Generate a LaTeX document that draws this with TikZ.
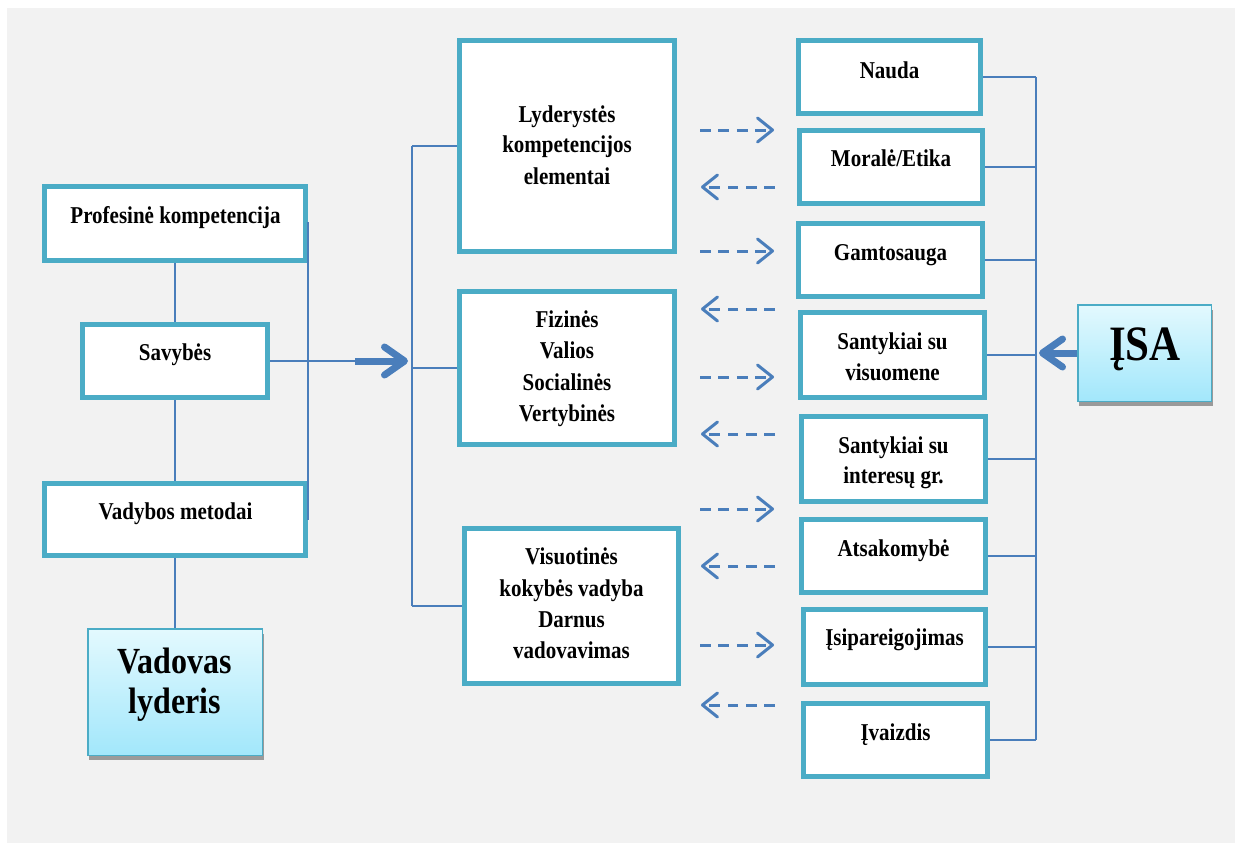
\documentclass[tikz,border=0pt]{standalone}
\usepackage{fontspec}
\setmainfont{Liberation Serif}
\usepackage{graphicx}
\usetikzlibrary{arrows.meta,shadows}
\definecolor{bgray}{HTML}{F2F2F2}
\definecolor{boxblue}{HTML}{4BACC6}
\definecolor{lineblue}{HTML}{4A7EBB}
\definecolor{gradtop}{HTML}{E3F9FE}
\definecolor{gradbot}{HTML}{A2E7FB}
\definecolor{shadowgray}{HTML}{9A9A9A}
\newcommand\bx[5]{\node[box,minimum width={#3-#1-5},minimum height={#4-#2-5}] (#5) at ({(#1+#3)/2},{(#2+#4)/2}) {};}
\newcommand\tline[4]{\node[tl] (#1) at (#2,#3) {\scalebox{1}[1.15]{#4}};}
\begin{document}
\begin{tikzpicture}[x=1pt,y=-1pt,
  box/.style={draw=boxblue,line width=5pt,fill=white,inner sep=0pt,rectangle},
  grad/.style={draw=boxblue,line width=1.5pt,top color=gradtop,bottom color=gradbot,inner sep=0pt,rectangle,
    drop shadow={shadow xshift=1.5pt,shadow yshift=-5pt,fill=shadowgray,opacity=1}},
  tl/.style={anchor=base,inner sep=0pt,font=\fontsize{21}{21}\selectfont\bfseries},
  bigtl/.style={anchor=base,inner sep=0pt,font=\fontsize{32}{32}\selectfont\bfseries},
  hugetl/.style={anchor=base,inner sep=0pt,font=\fontsize{43}{43}\selectfont\bfseries},
  conn/.style={draw=lineblue,line width=1.9pt},
  thickarr/.style={draw=lineblue,line width=7pt,-{Straight Barb[length=20pt,width=28pt,round]}},
  dasharr/.style={draw=lineblue,line width=3pt,dash pattern=on 10.7pt off 7.7pt,-{Straight Barb[length=15pt,width=24pt,round]}}
]
\useasboundingbox (0,0) rectangle (1238,843);
\fill[white] (0,0) rectangle (1238,843);
\fill[bgray] (7,8) rectangle (1235,843);

% left column
\bx{42}{184}{308}{263}{prof}
\bx{80}{322}{270}{400}{sav}
\bx{42}{481}{308}{558}{vad}
\node[grad,minimum width=174.5,minimum height=126.5] (vadovas) at (175,692) {};

% middle column
\bx{457}{38}{677}{254}{lyd}
\bx{457}{289}{677}{447}{fiz}
\bx{462}{526}{681}{686}{vis}

% right column
\bx{796}{38}{983}{116}{nauda}
\bx{797}{128}{985}{206}{moral}
\bx{796}{221}{985}{299}{gamt}
\bx{798}{310}{987}{400}{svis}
\bx{799}{414}{988}{504}{sint}
\bx{799}{517}{988}{595}{ats}
\bx{801}{607}{988}{687}{isip}
\bx{801}{701}{990}{779}{ivaiz}
\node[grad,minimum width=133.5,minimum height=96.5] (isa) at (1144.5,353) {};

% texts
\tline{tprof}{175.5}{223}{Profesinė kompetencija}
\tline{tsav}{175}{360}{Savybės}
\tline{tvad}{175.5}{519}{Vadybos metodai}
\node[bigtl] (tvadovas1) at (175,673) {\scalebox{1}[1.15]{Vadovas}};
\node[bigtl] (tvadovas2) at (175,713) {\scalebox{1}[1.15]{lyderis}};

\tline{tlyd1}{567}{122}{Lyderystės}
\tline{tlyd2}{567}{152}{kompetencijos}
\tline{tlyd3}{567}{184}{elementai}
\tline{tfiz1}{567}{327}{Fizinės}
\tline{tfiz2}{567}{358}{Valios}
\tline{tfiz3}{567}{390}{Socialinės}
\tline{tfiz4}{567}{421}{Vertybinės}
\tline{tvis1}{571.5}{564}{Visuotinės}
\tline{tvis2}{571.5}{596}{kokybės vadyba}
\tline{tvis3}{571.5}{627}{Darnus}
\tline{tvis4}{571.5}{658}{vadovavimas}

\tline{tnauda}{889.5}{78}{Nauda}
\tline{tmoral}{891}{166}{Moralė/Etika}
\tline{tgamt}{890.5}{260}{Gamtosauga}
\tline{tsvis1}{892.5}{349}{Santykiai su}
\tline{tsvis2}{892.5}{380}{visuomene}
\tline{tsint1}{893.5}{453}{Santykiai su}
\tline{tsint2}{893.5}{483}{interesų gr.}
\tline{tats}{893.5}{556}{Atsakomybė}
\tline{tisip}{894.5}{645}{Įsipareigojimas}
\tline{tivaiz}{895.5}{740}{Įvaizdis}
\node[hugetl] (tisa) at (1145,360) {\scalebox{1}[1.15]{ĮSA}};

% left connectors
\draw[conn] (prof.south) -- (sav.north);
\draw[conn] (sav.south) -- (vad.north);
\draw[conn] (vad.south) -- (vadovas.north);
\coordinate (lb1) at (308,222);
\coordinate (lb2) at (308,520);
\draw[conn] (lb1) -- (lb2);
\coordinate (sa1) at (355,361);
\coordinate (sa2) at (408,361);
\draw[conn] (sav.east) -- (sa1);
\draw[thickarr] (sa1) -- (sa2);

% middle bracket
\coordinate (mb) at (412,0);
\draw[conn] (lyd.west -| mb) -- (vis.west -| mb);
\draw[conn] (lyd.west -| mb) -- (lyd.west);
\draw[conn] (fiz.west -| mb) -- (fiz.west);
\draw[conn] (vis.west -| mb) -- (vis.west);

% right bracket
\coordinate (rb) at (1036,0);
\draw[conn] (nauda.east -| rb) -- (ivaiz.east -| rb);
\foreach \b in {nauda,moral,gamt,svis,sint,ats,isip,ivaiz}
  \draw[conn] (\b.east) -- (\b.east -| rb);
\coordinate (isatip) at (1039,353);
\draw[thickarr] (isa.west) -- (isatip);

% dashed arrows
\foreach \i/\y in {1/130,2/251,3/377,4/509,5/645}{
  \coordinate (ra\i) at (700,\y);
  \coordinate (rb\i) at (774,\y);
  \draw[dasharr] (ra\i) -- (rb\i);
}
\foreach \i/\y in {1/187,2/309,3/434,4/566,5/705}{
  \coordinate (la\i) at (775,\y);
  \coordinate (lb\i) at (701,\y);
  \draw[dasharr] (la\i) -- (lb\i);
}
\end{tikzpicture}
\end{document}
